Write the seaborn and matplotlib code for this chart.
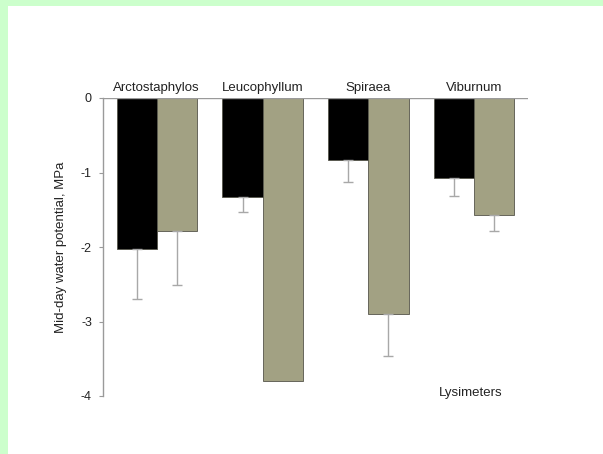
import numpy as np
import pandas as pd
import matplotlib
matplotlib.use("Agg")
import matplotlib.pyplot as plt
import seaborn as sns

# Mid-day water potential (MPa), mean and downward error per genus
genera = ["Arctostaphylos", "Leucophyllum", "Spiraea", "Viburnum"]
treatments = ["Irrigated", "Dry-down"]
irrigated_mean = [-2.03, -1.33, -0.83, -1.08]
irrigated_err = [0.67, 0.20, 0.30, 0.24]
drydown_mean = [-1.79, -3.80, -2.90, -1.57]
drydown_err = [0.72, np.nan, 0.56, 0.21]
y_ticks = [0, -1, -2, -3, -4]

sns.set_theme(style="white")
plt.rcParams["font.family"] = ["Liberation Sans", "DejaVu Sans"]

df = pd.DataFrame({
    "genus": genera * 2,
    "treatment": [treatments[0]] * 4 + [treatments[1]] * 4,
    "psi": irrigated_mean + drydown_mean,
})

W, H = 603, 454
fig = plt.figure(figsize=(W / 100, H / 100), dpi=100)
fig.patch.set_facecolor("#ccffcc")
fig.add_artist(plt.Rectangle((8 / W, 0), 1 - 8 / W, 1 - 6 / H,
                             transform=fig.transFigure, facecolor="white",
                             edgecolor="none", zorder=0))

ax = fig.add_axes([103 / W, 1 - 396 / H, (528 - 103) / W, (396 - 98) / H])
ax.set_facecolor("none")

sns.barplot(data=df, x="genus", y="psi", hue="treatment", order=genera,
            hue_order=treatments, palette=["#000000", "#a2a183"],
            width=0.755, errorbar=None, legend=False, ax=ax,
            edgecolor="#55554a", linewidth=0.6, saturation=1)

errs = [irrigated_err, drydown_err]
means = [irrigated_mean, drydown_mean]
for cont, e, m in zip(ax.containers, errs, means):
    xs = [b.get_x() + b.get_width() / 2 for b in cont]
    e = np.asarray(e, dtype=float)
    ok = ~np.isnan(e)
    ax.errorbar(np.array(xs)[ok], np.array(m)[ok],
                yerr=[e[ok], np.zeros(ok.sum())], fmt="none",
                ecolor="#a8a8a8", elinewidth=1.0, capsize=3.5, capthick=1.0,
                zorder=1)

ax.set_xlim(-0.505, 3.505)
ax.set_ylim(-4, 0)
ax.set_yticks(y_ticks)
ax.set_yticklabels([str(t) for t in y_ticks])
ax.axhline(0, color="#9a9a9a", lw=1.0, zorder=5)

for s in ["top", "right", "bottom"]:
    ax.spines[s].set_visible(False)
ax.spines["left"].set_color("#9a9a9a")
ax.spines["left"].set_linewidth(1.0)

ax.tick_params(axis="y", left=True, length=3, width=0.8, color="#9a9a9a",
               labelsize=9, pad=5, labelcolor="#222222")
ax.tick_params(axis="x", bottom=False, labelbottom=False, top=False,
               labeltop=True, length=0, labelsize=9.5, pad=3,
               labelcolor="#222222")
ax.set_xlabel("")
ax.set_ylabel("Mid-day water potential, MPa", fontsize=9.5, labelpad=10,
              color="#222222")

ax.text(2.96, -3.96, "Lysimeters", ha="center", va="center", fontsize=9.5,
        color="#222222")

fig.savefig("out.png", dpi=100, facecolor=fig.get_facecolor())
